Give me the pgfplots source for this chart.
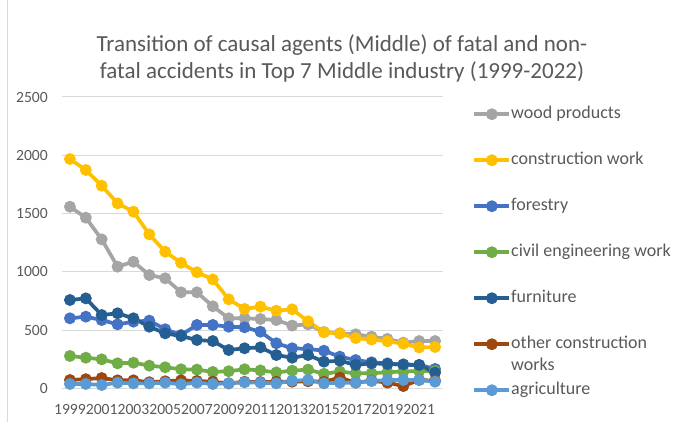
\documentclass[border=0pt]{standalone}
\usepackage{fontspec}
\setmainfont{Carlito}
\usepackage{pgfplots}
\usepackage{pgfplotstable}
\pgfplotsset{compat=1.18}
\definecolor{cwood}{HTML}{A5A5A5}
\definecolor{ccons}{HTML}{FFC000}
\definecolor{cforest}{HTML}{4472C4}
\definecolor{ccivil}{HTML}{70AD47}
\definecolor{cfurn}{HTML}{255E91}
\definecolor{cother}{HTML}{9E480E}
\definecolor{cagri}{HTML}{5B9BD5}
\definecolor{ctext}{HTML}{595959}
\definecolor{cgrid}{HTML}{D9D9D9}
\pgfplotstableread{
year wood cons forest civil furn other agri
1999 1559 1968 602 279 759 73 39
2000 1465 1874 616 264 773 80 39
2001 1279 1739 587 250 630 90 30
2002 1045 1588 550 216 645 70 50
2003 1087 1516 573 221 602 70 44
2004 973 1322 582 196 530 54 44
2005 945 1173 508 182 473 62 50
2006 825 1078 459 165 450 70 36
2007 825 997 545 162 416 65 50
2008 705 936 545 142 407 58 39
2009 602 765 530 148 330 44 44
2010 602 682 525 165 345 58 53
2011 596 702 487 155 353 55 50
2012 587 667 388 138 287 58 44
2013 540 679 345 153 264 58 67
2014 550 576 339 162 287 62 73
2015 485 482 324 126 230 58 44
2016 473 472 273 145 238 93 50
2017 465 432 244 130 202 50 50
2018 444 420 225 130 216 67 64
2019 425 405 216 140 210 50 73
2020 393 384 202 145 207 21 73
2021 407 352 202 150 202 73 73
2022 407 356 168 150 136 67 58
}\data
\begin{document}
\begin{tikzpicture}[x=1pt,y=1pt]
\useasboundingbox (0,0) rectangle (687,422);
\draw[cgrid, line width=0.8pt] (7,0) -- (7,422);
\node[font=\fontsize{23}{27.6}\selectfont, text=ctext, align=center] at (342,363.5)
  {Transition of causal agents (Middle) of fatal and non-\\fatal accidents in Top 7 Middle industry (1999-2022)};
\begin{axis}[
  at={(62pt,33.5pt)}, anchor=south west,
  scale only axis, width=381pt, height=291.5pt,
  xmin=1998.5, xmax=2022.5, ymin=0, ymax=2500,
  clip=false,
  xtick={1999,2001,...,2021},
  ytick={0,500,...,2500},
  axis line style={draw=none},
  major tick length=0pt,
  ymajorgrids, grid style={cgrid, line width=1pt},
  /pgf/number format/assume math mode=true,
  /pgf/number format/1000 sep={},
  tick label style={font=\fontsize{15.6}{18}\selectfont, text=ctext, inner sep=0pt},
  xticklabel style={anchor=north, yshift=-16pt},
  yticklabel style={anchor=east, xshift=-14pt},
  every axis plot/.append style={line width=3.7pt, mark=*, mark size=4pt, mark options={solid, line width=0.7pt}},
  legend image code/.code={\draw[mark repeat=2,mark phase=2,#1] plot coordinates {(0pt,0pt) (17.5pt,0pt) (35pt,0pt)};},
  legend cell align=left,
  legend style={at={(axis description cs:1.077,0.969)}, anchor=north west, draw=none, fill=none,
    inner sep=0pt, row sep=30pt, column sep=0pt,
    font=\fontsize{18}{22}\selectfont, text=ctext,
    nodes={inner sep=0pt, text height=12pt, text depth=4pt}},
]
\addplot[cwood, mark options={fill=cwood}] table[x=year,y=wood]{\data};
\addlegendentry{wood products}
\addplot[ccons, mark options={fill=ccons}] table[x=year,y=cons]{\data};
\addlegendentry{construction work}
\addplot[cforest, mark options={fill=cforest}] table[x=year,y=forest]{\data};
\addlegendentry{forestry}
\addplot[ccivil, mark options={fill=ccivil}] table[x=year,y=civil]{\data};
\addlegendentry{civil engineering work}
\addplot[cfurn, mark options={fill=cfurn}] table[x=year,y=furn]{\data};
\addlegendentry{furniture}
\addplot[cother, mark options={fill=cother}] table[x=year,y=other]{\data};
\addlegendentry{\begin{tabular}[t]{@{}l@{}}other construction\\works\end{tabular}}
\addplot[cagri, mark options={fill=cagri}] table[x=year,y=agri]{\data};
\addlegendentry{agriculture}
\end{axis}
\end{tikzpicture}
\end{document}
